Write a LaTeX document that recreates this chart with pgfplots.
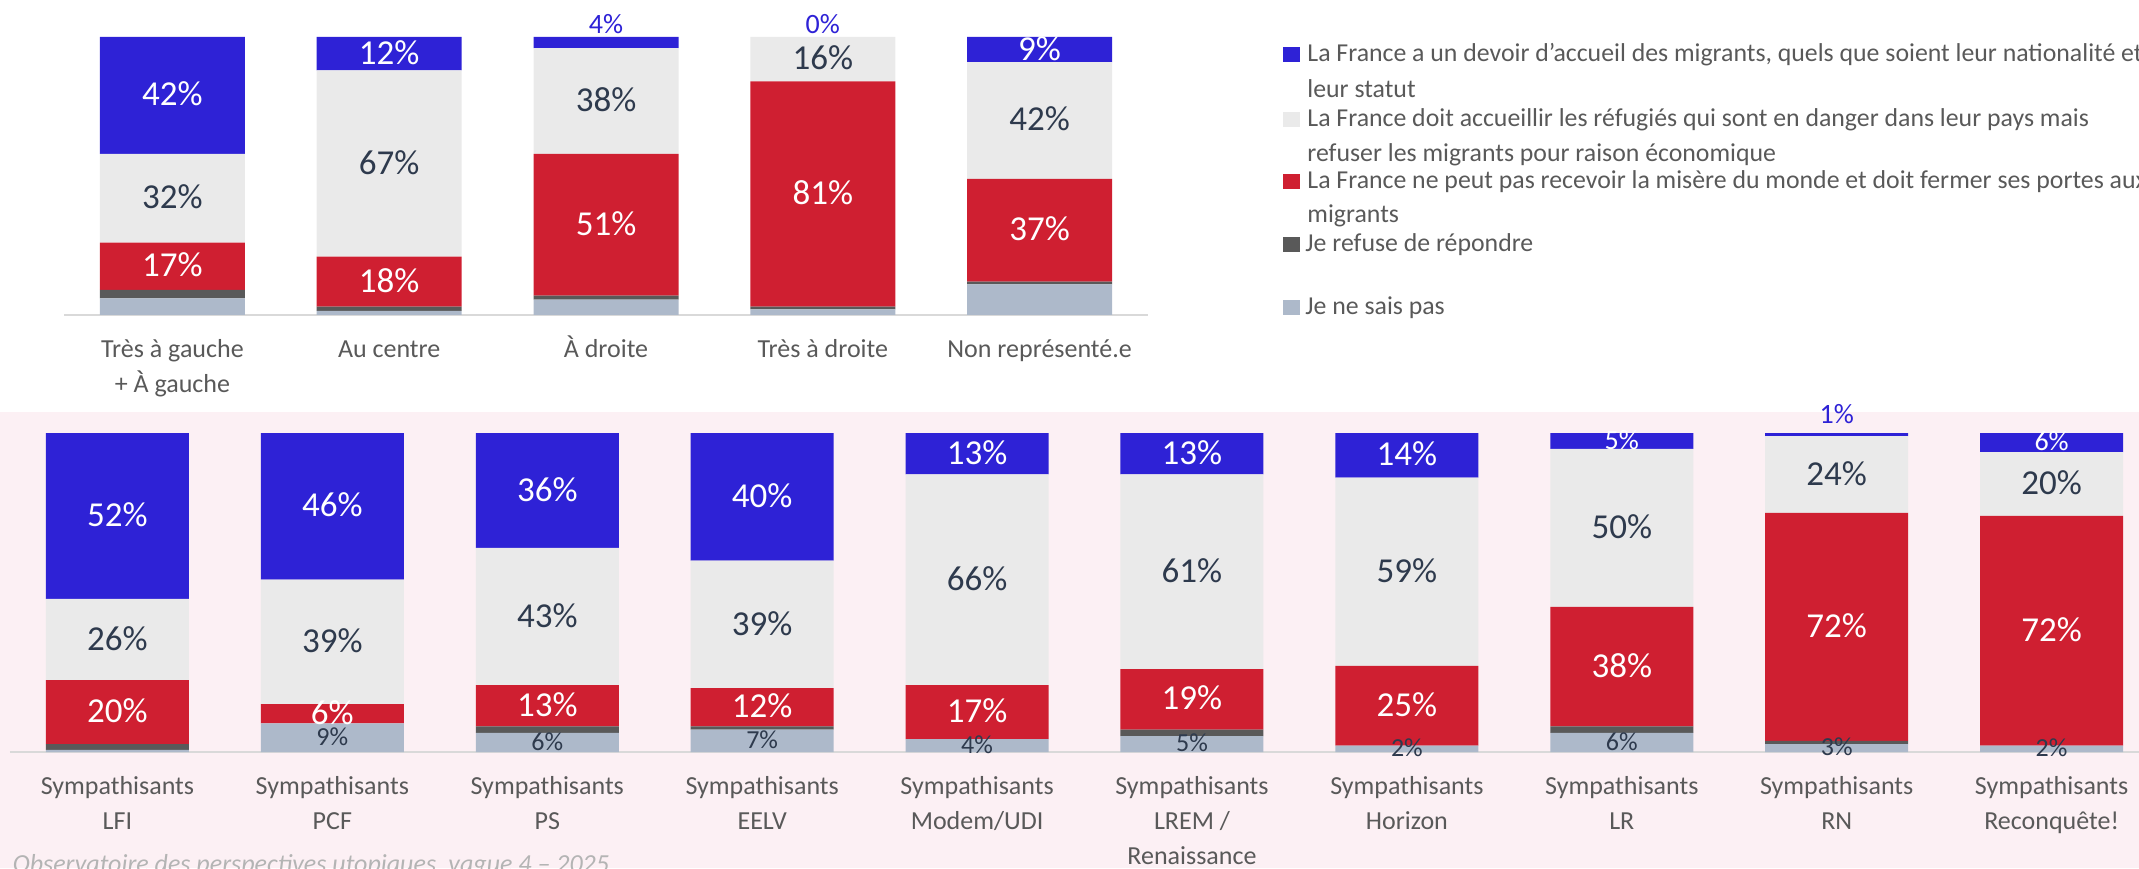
\documentclass[border=0pt]{standalone}
\usepackage{pgfplots}
\usepackage{pgfplotstable}
\pgfplotsset{compat=1.18}
\usepackage{fontspec}
\setmainfont{Carlito}
\definecolor{cblue}{HTML}{2E22D6}
\definecolor{clight}{HTML}{EAEAEA}
\definecolor{cred}{HTML}{CF1F31}
\definecolor{cdark}{HTML}{595959}
\definecolor{cslate}{HTML}{ADB9CA}
\definecolor{cpink}{HTML}{FCF0F4}
\definecolor{cnavy}{HTML}{2E3A4D}
\definecolor{ctick}{HTML}{595959}
\definecolor{caxis}{HTML}{D9D9D9}
\definecolor{cfoot}{HTML}{B4B4B4}

\pgfplotstableread{
x nsp ref red light blue
0 6 3 17 32 42
1 1.5 1.5 18 67 12
2 5.5 1.5 51 38 4
3 2 1 81 16 0
4 11 1 37 42 9
}\toptab

\pgfplotstableread{
x nsp ref red light blue
0 0.7 1.8 20 25.5 52
1 9 0 6 39 46
2 6 2 13 43 36
3 7 1 12 40 40
4 4 0 17 66 13
5 5 2 19 61 13
6 2 0 25 59 14
7 6 2 37.5 49.5 5
8 2.5 1 71.5 24 1
9 2 0 72 20 6
}\bottab

\pgfplotsset{
  barax/.style={scale only axis, ybar stacked, ymin=0, ymax=100,
    axis x line=bottom, axis y line=none,
    x axis line style={-, draw=caxis, line width=1pt},
    xtick style={draw=none}, major tick length=0pt,
    xticklabel style={align=center, font=\fontsize{13}{17.5}\selectfont, text=ctick,
      anchor=north, inner sep=0pt, yshift=-9pt}},
  labax/.style={scale only axis, hide axis, ymin=0, ymax=100, clip=false},
  lbl/.style n args={4}{only marks, mark=*, mark size=0pt, mark options={draw=none,fill=none},
    point meta=explicit symbolic,
    nodes near coords={\pgfplotspointmeta\%},
    every node near coord/.append style={text=#1, font=\fontsize{#2}{#2}\selectfont,
      inner sep=0pt, text height=#3, text depth=0pt, anchor=south, yshift=#4}},
  w17/.style={lbl={white}{17.5}{11pt}{-5.5pt}},
  n17/.style={lbl={cnavy}{17.5}{11pt}{-5.5pt}},
  n13/.style={lbl={cnavy}{13}{8.2pt}{-4.1pt}},
  b14/.style={lbl={cblue}{14}{8.85pt}{-4.4pt}},
  w14/.style={lbl={white}{14}{8.85pt}{-4.4pt}},
}

\begin{document}
\begin{tikzpicture}[x=1pt,y=1pt]
\path[use as bounding box, clip] (0,0) rectangle (1069.5,434);
\fill[cpink] (0,0) rectangle (1069.5,228);

% ---------- top panel ----------
\begin{axis}[barax, at={(32pt,276.5pt)}, anchor=south west,
  width=542pt, height=139pt, xmin=-0.5, xmax=4.5, bar width=72.5pt,
  xtick={0,1,2,3,4},
  xticklabels={{\strut Très à gauche\\+ À gauche},{\strut Au centre},{\strut À droite},{\strut Très à droite},{\strut Non représenté.e}}]
\addplot[fill=cslate, draw=none] table[x=x,y=nsp]{\toptab};
\addplot[fill=cdark, draw=none] table[x=x,y=ref]{\toptab};
\addplot[fill=cred, draw=none] table[x=x,y=red]{\toptab};
\addplot[fill=clight, draw=none] table[x=x,y=light]{\toptab};
\addplot[fill=cblue, draw=none] table[x=x,y=blue]{\toptab};
\end{axis}
\begin{axis}[labax, at={(32pt,276.5pt)}, anchor=south west,
  width=542pt, height=139pt, xmin=-0.5, xmax=4.5]
\addplot[w17] table[meta=lab]{
x y lab
0 79 42
0 17.5 17
1 94 12
1 12 18
2 32.5 51
3 43.5 81
4 95.5 9
4 30.5 37
};
\addplot[n17] table[meta=lab]{
x y lab
0 42 32
1 54.5 67
2 77 38
3 92 16
4 70 42
};
\addplot[b14] table[meta=lab]{
x y lab
2 104.3 4
3 104.3 0
};
\end{axis}

% ---------- legend ----------
\begin{scope}[every node/.style={anchor=base west, inner sep=0pt, text=ctick, font=\fontsize{12.9}{15}\selectfont}]
\fill[cblue] (641.5,403) rectangle (650,410.5);
\node at (653.5,403) {La France a un devoir d'accueil des migrants, quels que soient leur nationalité et};
\node at (653.5,385) {leur statut};
\fill[clight] (641.5,370.5) rectangle (650,378);
\node at (653.5,370.5) {La France doit accueillir les réfugiés qui sont en danger dans leur pays mais};
\node at (653.5,353) {refuser les migrants pour raison économique};
\fill[cred] (641.5,339.5) rectangle (650,347);
\node at (653.5,339.5) {La France ne peut pas recevoir la misère du monde et doit fermer ses portes aux};
\node at (653.5,322.5) {migrants};
\fill[cdark] (641.5,308) rectangle (650,315.5);
\node at (652.5,308) {Je refuse de répondre};
\fill[cslate] (641.5,276.5) rectangle (650,284);
\node at (652.5,276.5) {Je ne sais pas};
\end{scope}

% ---------- bottom panel ----------
\begin{axis}[barax, at={(5pt,58pt)}, anchor=south west,
  width=1074.5pt, height=159.5pt, xmin=-0.5, xmax=9.5, bar width=71.5pt,
  xtick={0,1,2,3,4,5,6,7,8,9},
  xticklabels={{\strut Sympathisants\\LFI},{\strut Sympathisants\\PCF},{\strut Sympathisants\\PS},{\strut Sympathisants\\EELV},{\strut Sympathisants\\Modem/UDI},{\strut Sympathisants\\LREM /\\Renaissance},{\strut Sympathisants\\Horizon},{\strut Sympathisants\\LR},{\strut Sympathisants\\RN},{\strut Sympathisants\\Reconquête!}}]
\addplot[fill=cslate, draw=none] table[x=x,y=nsp]{\bottab};
\addplot[fill=cdark, draw=none] table[x=x,y=ref]{\bottab};
\addplot[fill=cred, draw=none] table[x=x,y=red]{\bottab};
\addplot[fill=clight, draw=none] table[x=x,y=light]{\bottab};
\addplot[fill=cblue, draw=none] table[x=x,y=blue]{\bottab};
\end{axis}
\begin{axis}[labax, at={(5pt,58pt)}, anchor=south west,
  width=1074.5pt, height=159.5pt, xmin=-0.5, xmax=9.5]
\addplot[w17] table[meta=lab]{
x y lab
0 74 52
0 12.5 20
1 77 46
1 12 6
2 82 36
2 14.5 13
3 80 40
3 14 12
4 93.5 13
4 12.5 17
5 93.5 13
5 16.5 19
6 93 14
6 14.5 25
7 26.75 38
8 39.25 72
9 38 72
};
\addplot[n17] table[meta=lab]{
x y lab
0 35.25 26
1 34.5 39
2 42.5 43
3 40 39
4 54 66
5 56.5 61
6 56.5 59
7 70.25 50
8 87 24
9 84 20
};
\addplot[n13] table[meta=lab]{
x y lab
1 4.5 9
2 3 6
3 3.5 7
4 2 4
5 2.5 5
6 1 2
7 3 6
8 1.25 3
9 1 2
};
\addplot[w14] table[meta=lab]{
x y lab
7 97.5 5
9 97 6
};
\addplot[b14] table[meta=lab]{
x y lab
8 105.6 1
};
\end{axis}

\node[anchor=base west, inner sep=0pt, text=cfoot, font=\itshape\fontsize{13}{15}\selectfont] at (6.25,-2) {Observatoire des perspectives utopiques, vague 4 – 2025};
\end{tikzpicture}
\end{document}
